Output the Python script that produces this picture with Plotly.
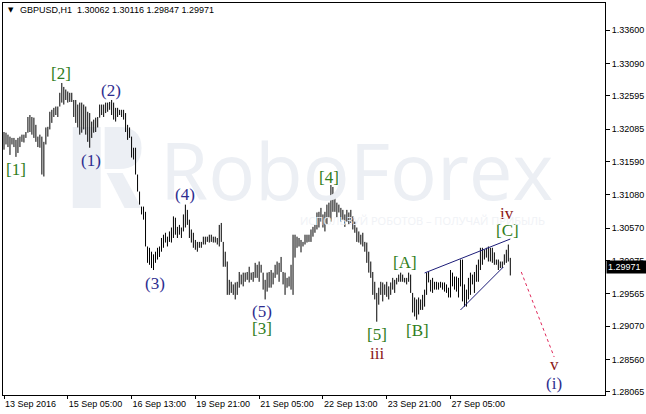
import plotly.graph_objects as go

# ---------------- data ----------------
symbol = "GBPUSD,H1"
last_open, last_high, last_low, last_close = 1.30062, 1.30116, 1.29847, 1.29971

highs = [
    1.3204, 1.3203, 1.3200, 1.3197, 1.3195, 1.3195, 1.3192, 1.3195, 1.3197, 1.3200,
    1.3200, 1.3204, 1.3227, 1.3230, 1.3227, 1.3226, 1.3215, 1.3197, 1.3200, 1.3197,
    1.3189, 1.3211, 1.3212, 1.3235, 1.3238, 1.3241, 1.3243, 1.3243, 1.3264, 1.3279,
    1.3273, 1.3269, 1.3266, 1.3264, 1.3264, 1.3253, 1.3253, 1.3246, 1.3249, 1.3249,
    1.3246, 1.3243, 1.3235, 1.3233,
    1.3220, 1.3223, 1.3226, 1.3227, 1.3246, 1.3246, 1.3246, 1.3249, 1.3249, 1.3250,
    1.3253, 1.3249, 1.3241, 1.3241, 1.3238, 1.3238, 1.3238, 1.3233, 1.3215, 1.3211,
    1.3197, 1.3180, 1.3180, 1.3139, 1.3113, 1.3090, 1.3090, 1.3082, 1.3029, 1.3027,
    1.3021, 1.3017, 1.3021, 1.3027, 1.3029, 1.3042, 1.3047, 1.3050, 1.3044, 1.3052,
    1.3058, 1.3075,
    1.3073, 1.3059, 1.3062, 1.3058, 1.3078, 1.3093, 1.3085, 1.3070, 1.3055, 1.3050,
    1.3039, 1.3036, 1.3036, 1.3036, 1.3044, 1.3044, 1.3044, 1.3047, 1.3047, 1.3044,
    1.3044, 1.3042, 1.3062, 1.3065, 1.3036, 1.3021, 1.3006, 1.2978, 1.2975, 1.2971,
    1.2974, 1.2975, 1.2990, 1.2986, 1.2989, 1.2989, 1.2990, 1.2998, 1.2989, 1.2990,
    1.3004, 1.3001, 1.3006,
    1.3001, 1.2989, 1.2978, 1.2989, 1.2990, 1.2993, 1.2989, 1.3001, 1.3006, 1.3004,
    1.3013, 1.2990, 1.2989, 1.2981, 1.2983, 1.3001, 1.3047, 1.3047, 1.3044, 1.3042,
    1.3039, 1.3036, 1.3047, 1.3047, 1.3047, 1.3055, 1.3059, 1.3062, 1.3081, 1.3082,
    1.3088, 1.3078, 1.3082, 1.3093, 1.3096, 1.3123, 1.3120, 1.3108, 1.3096, 1.3093,
    1.3088, 1.3085, 1.3078,
    1.3085, 1.3081, 1.3085, 1.3075, 1.3067, 1.3058, 1.3052, 1.3047, 1.3050, 1.3036,
    1.3035, 1.3021, 1.3006, 1.2990, 1.2975, 1.2958, 1.2966, 1.2975, 1.2974, 1.2971,
    1.2975, 1.2968, 1.2974, 1.2981, 1.2978, 1.2981, 1.2986, 1.2989, 1.2986, 1.2981,
    1.2981, 1.2989, 1.2986, 1.2958, 1.2951, 1.2948, 1.2951, 1.2948, 1.2955, 1.2963,
    1.2989, 1.2990,
    1.2978, 1.2981, 1.2975, 1.2975, 1.2974, 1.2975, 1.2974, 1.2974, 1.2971, 1.2966,
    1.2993, 1.2989, 1.2983, 1.2983, 1.2981, 1.3009, 1.3009, 1.2971, 1.2963, 1.2981,
    1.2989, 1.2986, 1.2990, 1.3001, 1.3009, 1.3027, 1.3027, 1.3024, 1.3027, 1.3029,
    1.3027, 1.3027, 1.3020, 1.3009, 1.3009, 1.3006, 1.3006, 1.3017, 1.3024, 1.3032,
    1.30116,
]

lows = [
    1.3177, 1.3185, 1.3181, 1.3169, 1.3185, 1.3181, 1.3166, 1.3172, 1.3181, 1.3189,
    1.3188, 1.3195, 1.3203, 1.3204, 1.3200, 1.3195, 1.3189, 1.3181, 1.3180, 1.3139,
    1.3136, 1.3185, 1.3197, 1.3208, 1.3218, 1.3227, 1.3230, 1.3227, 1.3243, 1.3249,
    1.3246, 1.3253, 1.3249, 1.3250, 1.3250, 1.3227, 1.3218, 1.3211, 1.3200, 1.3203,
    1.3208, 1.3200, 1.3189, 1.3180,
    1.3195, 1.3203, 1.3204, 1.3211, 1.3226, 1.3230, 1.3227, 1.3233, 1.3235, 1.3238,
    1.3230, 1.3223, 1.3220, 1.3227, 1.3230, 1.3227, 1.3223, 1.3204, 1.3192, 1.3195,
    1.3165, 1.3162, 1.3139, 1.3113, 1.3093, 1.3078, 1.3070, 1.3029, 1.3004, 1.3001,
    1.2996, 1.2993, 1.3004, 1.3009, 1.3013, 1.3021, 1.3027, 1.3035, 1.3029, 1.3036,
    1.3035, 1.3042,
    1.3047, 1.3042, 1.3047, 1.3042, 1.3052, 1.3058, 1.3062, 1.3042, 1.3035, 1.3027,
    1.3024, 1.3021, 1.3027, 1.3027, 1.3032, 1.3032, 1.3036, 1.3035, 1.3036, 1.3035,
    1.3035, 1.3032, 1.3029, 1.3036, 1.2998, 1.2998, 1.2955, 1.2955, 1.2958, 1.2955,
    1.2948, 1.2955, 1.2966, 1.2971, 1.2968, 1.2975, 1.2978, 1.2974, 1.2978, 1.2975,
    1.2981, 1.2981, 1.2975,
    1.2989, 1.2963, 1.2948, 1.2960, 1.2966, 1.2966, 1.2971, 1.2981, 1.2986, 1.2975,
    1.2990, 1.2971, 1.2955, 1.2966, 1.2968, 1.2963, 1.2955, 1.3012, 1.3027, 1.3029,
    1.3020, 1.3029, 1.3032, 1.3035, 1.3036, 1.3036, 1.3044, 1.3050, 1.3055, 1.3058,
    1.3067, 1.3058, 1.3052, 1.3062, 1.3073, 1.3067, 1.3082, 1.3082, 1.3073, 1.3081,
    1.3067, 1.3070, 1.3059,
    1.3067, 1.3062, 1.3065, 1.3055, 1.3050, 1.3036, 1.3035, 1.3032, 1.3029, 1.3021,
    1.3004, 1.2989, 1.2981, 1.2955, 1.2948, 1.2914, 1.2940, 1.2955, 1.2945, 1.2955,
    1.2952, 1.2948, 1.2955, 1.2963, 1.2958, 1.2971, 1.2975, 1.2975, 1.2975, 1.2974,
    1.2971, 1.2975, 1.2958, 1.2928, 1.2922, 1.2917, 1.2925, 1.2932, 1.2932, 1.2937,
    1.2955, 1.2974,
    1.2960, 1.2958, 1.2963, 1.2963, 1.2963, 1.2966, 1.2963, 1.2960, 1.2958, 1.2951,
    1.2951, 1.2968, 1.2963, 1.2960, 1.2951, 1.2968, 1.2945, 1.2937, 1.2937, 1.2948,
    1.2955, 1.2971, 1.2958, 1.2975, 1.2975, 1.2993, 1.3001, 1.3009, 1.3012, 1.3006,
    1.3006, 1.3004, 1.3001, 1.3001, 1.2993, 1.2996, 1.2996, 1.3001, 1.3004, 1.3006,
    1.29847,
]

time_tick_idx = [0, 32, 64, 96, 128, 160, 192, 224]
time_tick_text = ["13 Sep 2016", "15 Sep 05:00", "16 Sep 13:00", "19 Sep 21:00",
                  "21 Sep 05:00", "22 Sep 13:00", "23 Sep 21:00", "27 Sep 05:00"]

price_ticks = [1.33600, 1.33090, 1.32595, 1.32085, 1.31590, 1.31080,
               1.30570, 1.30075, 1.29565, 1.29070, 1.28560, 1.28065]
y_min, y_max = 1.28019, 1.34013

wave_text = ["[1]", "[2]", "(1)", "(2)", "(3)", "(4)", "(5)", "[3]", "[4]", "[5]",
             "iii", "[A]", "[B]", "iv", "[C]", "v", "(i)"]
wave_idx = [6, 28.5, 43.5, 53.5, 76, 91, 129.5, 129.5, 163, 187,
            187, 201, 207.5, 252.5, 252.5, 276, 276]
wave_price = [1.3146, 1.3294, 1.3160, 1.3268, 1.2973, 1.3108, 1.2929, 1.2903, 1.3134, 1.2894,
              1.2865, 1.3004, 1.2901, 1.3080, 1.3054, 1.2848, 1.2819]
wave_kind = ["b", "b", "p", "p", "p", "p", "p", "b", "b", "b",
             "r", "b", "b", "r", "b", "r", "p"]

wedge_upper_idx = [211, 254]
wedge_upper_price = [1.29885, 1.30404]
wedge_lower_idx = [229, 250.5]
wedge_lower_price = [1.29319, 1.29976]
proj_idx = [259.5, 276]
proj_price = [1.29900, 1.28600]

# ---------------- figure ----------------
W, H = 646, 414
ML, MR, MT, MB = 2, 40, 3, 19
PW, PH = W - ML - MR, H - MT - MB


def px(xp):
    return (xp - ML) / PW


def py(yp):
    return (H - MB - yp) / PH


fig = go.Figure()

bx, by = [], []
for i, (h, l) in enumerate(zip(highs, lows)):
    bx += [i, i, None]
    by += [l, h, None]
fig.add_trace(go.Scatter(x=bx, y=by, mode="lines", line=dict(color="#000000", width=1),
                         hoverinfo="skip", showlegend=False))

fig.add_trace(go.Scatter(x=wedge_upper_idx, y=wedge_upper_price, mode="lines",
                         line=dict(color="#1c1c78", width=1), hoverinfo="skip", showlegend=False))
fig.add_trace(go.Scatter(x=wedge_lower_idx, y=wedge_lower_price, mode="lines",
                         line=dict(color="#1c1c78", width=1), hoverinfo="skip", showlegend=False))
fig.add_trace(go.Scatter(x=proj_idx, y=proj_price, mode="lines",
                         line=dict(color="#e0285a", width=1, dash="dot"), hoverinfo="skip",
                         showlegend=False))

kind_color = {"b": "#2f7d20", "p": "#2e2d8f", "r": "#8b1515"}
annotations = []
for t, xi, yv, k in zip(wave_text, wave_idx, wave_price, wave_kind):
    annotations.append(dict(x=xi, y=yv, xref="x", yref="y", text=t, showarrow=False,
                            font=dict(family="Liberation Serif", size=17, color=kind_color[k]),
                            xanchor="center", yanchor="middle"))

# header
annotations.append(dict(x=px(5), y=py(10), xref="paper", yref="paper", text="▼",
                        showarrow=False, xanchor="left", yanchor="middle",
                        font=dict(family="DejaVu Sans", size=7, color="#000000")))
header = f"{symbol}  {last_open:.5f} {last_high:.5f} {last_low:.5f} {last_close:.5f}"
annotations.append(dict(x=px(17), y=py(10), xref="paper", yref="paper", text=header,
                        showarrow=False, xanchor="left", yanchor="middle",
                        font=dict(family="Liberation Sans", size=9, color="#000000")))

# current price box
annotations.append(dict(x=1, y=last_close, xref="paper", yref="y", text=f"{last_close:.5f}",
                        showarrow=False, xanchor="left", yanchor="middle", xshift=1,
                        bgcolor="#000000", borderpad=1, width=37, align="left",
                        font=dict(family="Liberation Sans", size=9, color="#ffffff")))

# watermark
wm = "#eceff4"
annotations.append(dict(x=px(357), y=py(170), xref="paper", yref="paper", text="RoboForex",
                        showarrow=False, xanchor="center", yanchor="middle",
                        font=dict(family="Open Sans", size=78, color=wm)))
annotations.append(dict(x=px(423), y=py(220), xref="paper", yref="paper",
                        text="ИСПОЛЬЗУЙ РОБОТОВ – ПОЛУЧАЙ ПРИБЫЛЬ",
                        showarrow=False, xanchor="center", yanchor="middle",
                        font=dict(family="Open Sans", size=11, color="#f0f2f6")))

shapes = [
    dict(type="rect", xref="paper", yref="paper", x0=px(72), x1=px(100), y0=py(208), y1=py(127),
         fillcolor=wm, line=dict(width=0), layer="below"),
    dict(type="path", xref="paper", yref="paper",
         path=(f"M {px(104)} {py(127)} L {px(118)} {py(127)} Q {px(141)} {py(127)} {px(141)} {py(148)} "
               f"Q {px(141)} {py(169)} {px(118)} {py(169)} L {px(104)} {py(169)} Z"),
         fillcolor=wm, line=dict(width=0), layer="below"),
    dict(type="path", xref="paper", yref="paper",
         path=(f"M {px(106)} {py(173)} L {px(122)} {py(173)} L {px(141)} {py(208)} "
               f"L {px(124)} {py(208)} Z"),
         fillcolor=wm, line=dict(width=0), layer="below"),
]

fig.update_layout(
    width=W, height=H,
    margin=dict(l=ML, r=MR, t=MT, b=MB, pad=0),
    paper_bgcolor="#ffffff", plot_bgcolor="#ffffff",
    font=dict(family="Liberation Sans", size=9, color="#000000"),
    showlegend=False,
    annotations=annotations,
    shapes=shapes,
    xaxis=dict(range=[-0.5, (PW / 2) - 0.5], showgrid=False, zeroline=False,
               showline=True, linecolor="#000000", linewidth=1, mirror=True,
               tickmode="array", tickvals=time_tick_idx, ticktext=time_tick_text,
               ticks="outside", ticklen=3, tickcolor="#000000", tickwidth=1,
               ticklabelposition="outside right",
               tickfont=dict(family="Liberation Sans", size=9, color="#000000"),
               fixedrange=True),
    yaxis=dict(range=[y_min, y_max], side="right", showgrid=False, zeroline=False,
               showline=True, linecolor="#000000", linewidth=1, mirror=True,
               tickmode="array", tickvals=price_ticks,
               ticktext=[f"{v:.5f}" for v in price_ticks],
               ticks="outside", ticklen=4, tickcolor="#000000", tickwidth=1,
               tickfont=dict(family="Liberation Sans", size=9, color="#000000"),
               fixedrange=True),
)

fig.write_html("out.html", config={"displayModeBar": False},
               post_script="document.body.style.margin='0';document.body.style.padding='0';")
